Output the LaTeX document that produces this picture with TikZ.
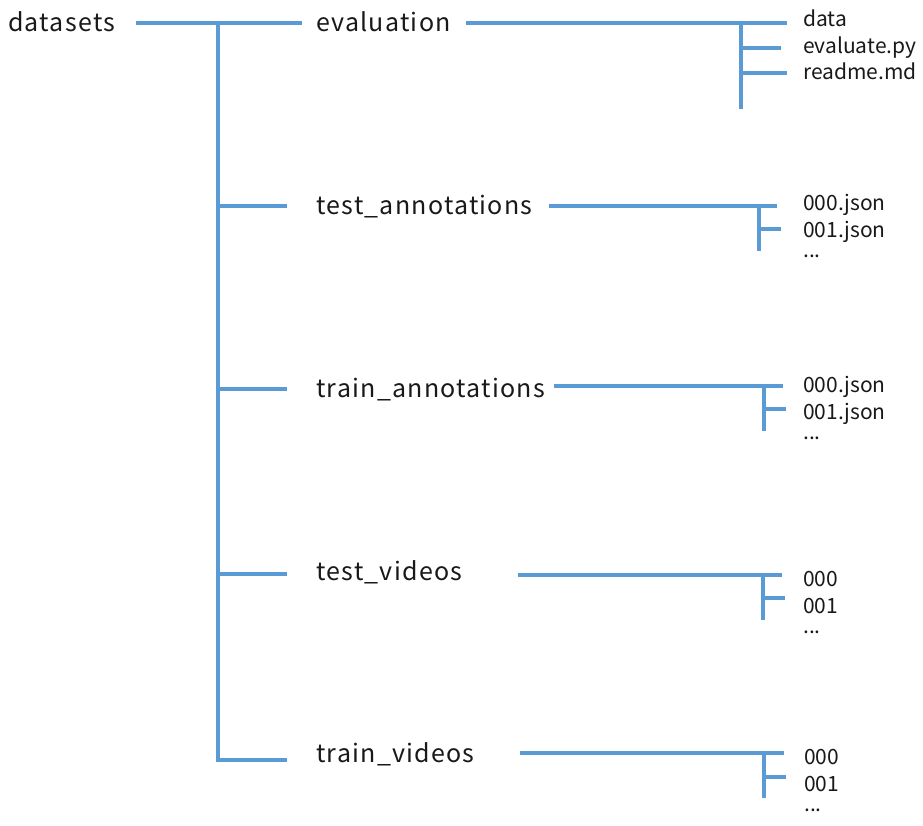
\documentclass[tikz,border=0pt]{standalone}
\usepackage{fontspec}
\setmainfont{Noto Sans CJK JP}
\newfontfamily\mainlblfont[LetterSpace=5]{Noto Sans CJK JP}
\definecolor{lineblue}{HTML}{5B9BD5}
\begin{document}
\begin{tikzpicture}[x=1pt,y=-1pt,
  conn/.style={draw=lineblue,line width=3.6pt},
  mainlbl/.style={anchor=base west,inner sep=0pt,font=\mainlblfont\fontsize{25}{28}\selectfont,text=black!90},
  sublbl/.style={anchor=base west,inner sep=0pt,font=\fontsize{21}{24}\selectfont,text=black!90}]
\path[fill=white] (0,0) rectangle (923,825);
\useasboundingbox (0,0) rectangle (923,825);
% labels
\node[mainlbl] (ds) at (8,31) {datasets};
\node[mainlbl] (ev) at (316,31) {evaluation};
\node[mainlbl] (ta) at (316,214) {test\_annotations};
\node[mainlbl] (tra) at (316,397) {train\_annotations};
\node[mainlbl] (tv) at (316,580) {test\_videos};
\node[mainlbl] (trv) at (316,762) {train\_videos};
\node[sublbl] (ev1) at (803,26) {data};
\node[sublbl] (ev2) at (803,53) {evaluate.py};
\node[sublbl] (ev3) at (803,79) {readme.md};
\node[sublbl] (ta1) at (803,210) {000.json};
\node[sublbl] (ta2) at (803,237) {001.json};
\node[sublbl] (ta3) at (803,257) {...};
\node[sublbl] (tra1) at (803,392) {000.json};
\node[sublbl] (tra2) at (803,419) {001.json};
\node[sublbl] (tra3) at (803,439) {...};
\node[sublbl] (tv1) at (803,586) {000};
\node[sublbl] (tv2) at (803,613) {001};
\node[sublbl] (tv3) at (803,633) {...};
\node[sublbl] (trv1) at (804,764) {000};
\node[sublbl] (trv2) at (804,791) {001};
\node[sublbl] (trv3) at (804,811) {...};
% root trunk
\coordinate (r0) at (136,23);
\coordinate (r1) at (302,23);
\coordinate (tk) at (218,23);
\coordinate (tkend) at (218,762);
\draw[conn] (r0) -- (r1);
\draw[conn] (tk) -- (tkend);
\foreach \yy in {206,389,574,760}{
  \draw[conn] (218,\yy) -- (287,\yy);
}
% evaluation
\draw[conn] (466,23) -- (787,23);
\draw[conn] (741,23) -- (741,109);
\draw[conn] (741,48) -- (781,48);
\draw[conn] (741,73) -- (787,73);
% test_annotations
\draw[conn] (549,206) -- (777,206);
\draw[conn] (759,206) -- (759,251);
\draw[conn] (759,229) -- (781,229);
% train_annotations
\draw[conn] (554,386) -- (783,386);
\draw[conn] (764,386) -- (764,431);
\draw[conn] (764,409) -- (786,409);
% test_videos
\draw[conn] (518,575) -- (782,575);
\draw[conn] (763,575) -- (763,620);
\draw[conn] (763,598) -- (785,598);
% train_videos
\draw[conn] (520,753) -- (784,753);
\draw[conn] (764,753) -- (764,798);
\draw[conn] (764,777) -- (786,777);
\end{tikzpicture}
\end{document}
